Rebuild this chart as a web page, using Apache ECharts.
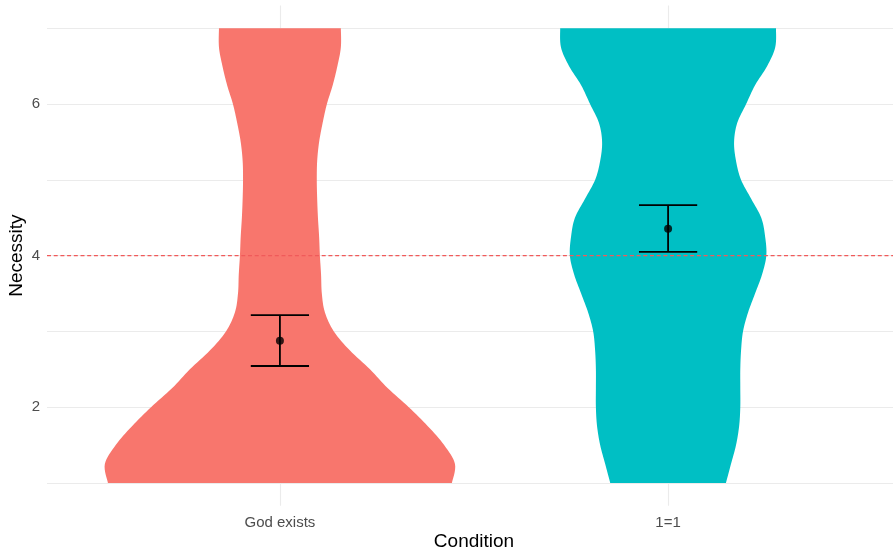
<!DOCTYPE html>
<html>
<head>
<meta charset="utf-8">
<script src="https://cdn.jsdelivr.net/npm/echarts@6/dist/echarts.min.js"></script>
<style>html,body{margin:0;padding:0;background:#fff}#c{width:893px;height:551px}</style>
</head>
<body>
<div id="c"></div>
<script>
// ---- data ----
const categories = ['God exists', '1=1'];
const colors = ['#F8766D', '#00BFC4'];
// y levels at which violin half-widths were read
const yLevels = [1, 1.25, 1.5, 1.75, 2, 2.25, 2.5, 2.75, 3, 3.25, 3.5, 3.75, 4, 4.25, 4.5, 4.75, 5, 5.25, 5.5, 5.75, 6, 6.25, 6.5, 6.75, 7];
// violin half-widths, in category-axis units
const halfWidthGod = [0.443, 0.451, 0.423, 0.381, 0.332, 0.278, 0.232, 0.180, 0.139, 0.116, 0.108, 0.106, 0.103, 0.101, 0.098, 0.096, 0.095, 0.096, 0.101, 0.110, 0.121, 0.136, 0.148, 0.157, 0.157];
const halfWidthOne = [0.149, 0.162, 0.175, 0.183, 0.186, 0.186, 0.186, 0.188, 0.193, 0.206, 0.224, 0.242, 0.253, 0.250, 0.240, 0.214, 0.188, 0.175, 0.170, 0.178, 0.201, 0.224, 0.255, 0.276, 0.278];
const means = [2.877, 4.355];
const lowers = [2.544, 4.05];
const uppers = [3.216, 4.667];
const refLine = 4;
const yTickLabels = [2, 4, 6];
const yGridValues = [1, 2, 3, 4, 5, 6, 7];

const halfWidths = [halfWidthGod, halfWidthOne];
const capHalf = 0.075;

function catmull(pts, seg) {
  const out = [];
  for (let i = 0; i < pts.length - 1; i++) {
    const p0 = pts[Math.max(i - 1, 0)], p1 = pts[i], p2 = pts[i + 1], p3 = pts[Math.min(i + 2, pts.length - 1)];
    for (let t = 0; t < seg; t++) {
      const s = t / seg, s2 = s * s, s3 = s2 * s;
      const f = (a, b, c, d) => 0.5 * ((2 * b) + (-a + c) * s + (2 * a - 5 * b + 4 * c - d) * s2 + (-a + 3 * b - 3 * c + d) * s3);
      out.push([f(p0[0], p1[0], p2[0], p3[0]), f(p0[1], p1[1], p2[1], p3[1])]);
    }
  }
  out.push(pts[pts.length - 1]);
  return out;
}

const chart = echarts.init(document.getElementById('c'), null, { renderer: 'canvas' });
const font = 'Liberation Sans, Arial, Helvetica, sans-serif';

chart.setOption({
  backgroundColor: '#ffffff',
  animation: false,
  grid: { left: 47, right: -8, top: 5.6, bottom: 45.3, containLabel: false, outerBoundsMode: 'none' },
  xAxis: {
    type: 'value', min: 0.4, max: 2.6,
    axisLine: { show: false },
    axisTick: { show: false, customValues: [1, 2] },
    axisLabel: {
      customValues: [1, 2],
      formatter: v => categories[Math.round(v) - 1] || '',
      color: '#4d4d4d', fontSize: 15, fontFamily: font, margin: 10
    },
    splitLine: { show: true, lineStyle: { color: '#ebebeb', width: 1.1 } },
    name: 'Condition', nameLocation: 'middle', nameGap: 27, nameMoveOverlap: false,
    nameTextStyle: { color: '#000', fontSize: 19, fontFamily: font }
  },
  yAxis: {
    type: 'value', min: 0.7, max: 7.3,
    axisLine: { show: false },
    axisTick: { show: false, customValues: yGridValues },
    axisLabel: {
      customValues: yTickLabels,
      color: '#4d4d4d', fontSize: 15, fontFamily: font, margin: 7
    },
    splitLine: { show: true, lineStyle: { color: '#ebebeb', width: 1.1 } },
    name: 'Necessity', nameLocation: 'middle', nameGap: 21, nameMoveOverlap: false,
    nameTextStyle: { color: '#000', fontSize: 19, fontFamily: font }
  },
  series: [
    {
      type: 'custom', z: 2,
      data: categories.map((c, i) => [i + 1, 4]),
      encode: { x: 0, y: 1 },
      renderItem: function (params, api) {
        const i = params.dataIndex;
        const cx = api.value(0);
        const hw = halfWidths[i];
        const right = yLevels.map((v, k) => api.coord([cx + hw[k], v]));
        const left = yLevels.map((v, k) => api.coord([cx - hw[k], v]));
        const pts = catmull(right, 8).concat(catmull(left, 8).reverse());
        return { type: 'polygon', shape: { points: pts }, style: { fill: colors[i] } };
      }
    },
    {
      type: 'custom', z: 3, silent: true,
      data: [[1, refLine]],
      encode: { x: 0, y: 1 },
      renderItem: function (params, api) {
        const cs = params.coordSys;
        const y = api.coord([1, api.value(1)])[1];
        return {
          type: 'line',
          shape: { x1: cs.x, y1: y, x2: cs.x + cs.width, y2: y },
          style: { stroke: '#f05a5a', lineWidth: 1.1, lineDash: [4, 2.7] }
        };
      }
    },
    {
      type: 'custom', z: 4,
      data: categories.map((c, i) => [i + 1, lowers[i], uppers[i]]),
      encode: { x: 0, y: [1, 2] },
      renderItem: function (params, api) {
        const x = api.value(0), lo = api.value(1), hi = api.value(2);
        const st = { stroke: '#000', lineWidth: 1.8 };
        const a = api.coord([x, lo]), b = api.coord([x, hi]);
        const l1 = api.coord([x - capHalf, lo]), r1 = api.coord([x + capHalf, lo]);
        const l2 = api.coord([x - capHalf, hi]), r2 = api.coord([x + capHalf, hi]);
        return {
          type: 'group', children: [
            { type: 'line', shape: { x1: a[0], y1: a[1], x2: b[0], y2: b[1] }, style: st },
            { type: 'line', shape: { x1: l1[0], y1: l1[1], x2: r1[0], y2: r1[1] }, style: st },
            { type: 'line', shape: { x1: l2[0], y1: l2[1], x2: r2[0], y2: r2[1] }, style: st }
          ]
        };
      }
    },
    {
      type: 'scatter', z: 5,
      data: categories.map((c, i) => [i + 1, means[i]]),
      symbol: 'circle', symbolSize: 8,
      itemStyle: { color: '#000' }
    }
  ]
});
</script>
</body>
</html>
